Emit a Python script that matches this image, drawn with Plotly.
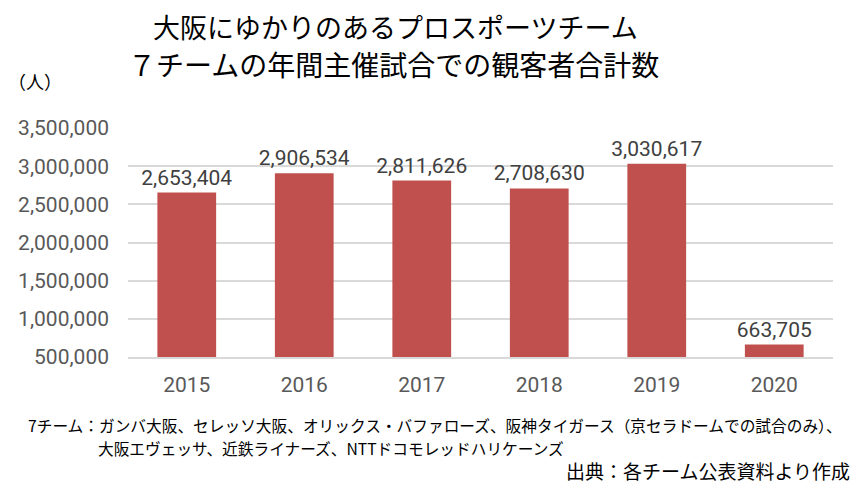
import plotly.graph_objects as go

# ----------------- DATA ----------------- #
years = ["2015", "2016", "2017", "2018", "2019", "2020"]
visitors = [2653404, 2906534, 2811626, 2708630, 3030617, 663705]
y_ticks = [500000, 1000000, 1500000, 2000000, 2500000, 3000000, 3500000]

title_lines = ["大阪にゆかりのあるプロスポーツチーム", "７チームの年間主催試合での観客者合計数"]
note_lines = [
    "7チーム：ガンバ大阪、セレッソ大阪、オリックス・バファローズ、阪神タイガース（京セラドームでの試合のみ）、",
    "大阪エヴェッサ、近鉄ライナーズ、NTTドコモレッドハリケーンズ",
]
source = "出典：各チーム公表資料より作成"

jp = "Noto Sans CJK JP"
num = "Roboto"

# page body has an 8px margin, so everything is placed 8px up/left
OFF = 8
W, H = 864, 483
# plot area in screen pixels (left, right, top, bottom)
L, R, T, B = 128 - OFF, 833 - OFF, 128 - OFF, 357 - OFF


def px(x, y):
    # screen pixel position -> paper coordinates of the plot area
    x, y = x - OFF, y - OFF
    return (x - L) / (R - L), (B - y) / (B - T)


# ----------------- PLOT ----------------- #
fig = go.Figure(go.Bar(
    x=years, y=visitors,
    marker=dict(color="#C0504D", line=dict(width=0)),
    text=[f"{v:,}" for v in visitors],
    textposition="outside", constraintext="none", cliponaxis=False,
    textfont=dict(family=num, size=21, color="#404040"),
))

fig.update_layout(
    width=W, height=H,
    margin=dict(l=L, r=W - R, t=T, b=H - B),
    paper_bgcolor="white", plot_bgcolor="white",
    bargap=0.5, showlegend=False,
    font=dict(family=jp),
)
fig.update_yaxes(
    range=[500000, 3500000], tickvals=y_ticks,
    ticktext=[f"{v:,}" for v in y_ticks],
    tickfont=dict(family=num, size=21, color="#595959"),
    gridcolor="#D9D9D9", gridwidth=2, zeroline=False, ticks="",
    ticklabelstandoff=18, automargin=False,
)
fig.update_xaxes(
    tickfont=dict(family=num, size=21, color="#595959"),
    showline=True, linecolor="#D9D9D9", linewidth=2, ticks="",
    ticklabelstandoff=8, automargin=False,
)

# titles and notes (screen pixel positions)
texts = [
    (title_lines[0], 395, 26, 27, "center"),
    (title_lines[1], 393, 64, 28, "center"),
    ("（人）", 6, 81, 18, "left"),
    (note_lines[0], 26, 425, 15.7, "left"),
    (note_lines[1], 96, 448, 15.7, "left"),
    (source, 852, 470, 19, "right"),
]
for txt, x, y, size, anchor in texts:
    xp, yp = px(x, y)
    fig.add_annotation(text=txt, xref="paper", yref="paper", x=xp, y=yp,
                       xanchor=anchor, yanchor="middle", showarrow=False,
                       font=dict(family=jp, size=size, color="black"))

fig.write_html("out.html")
